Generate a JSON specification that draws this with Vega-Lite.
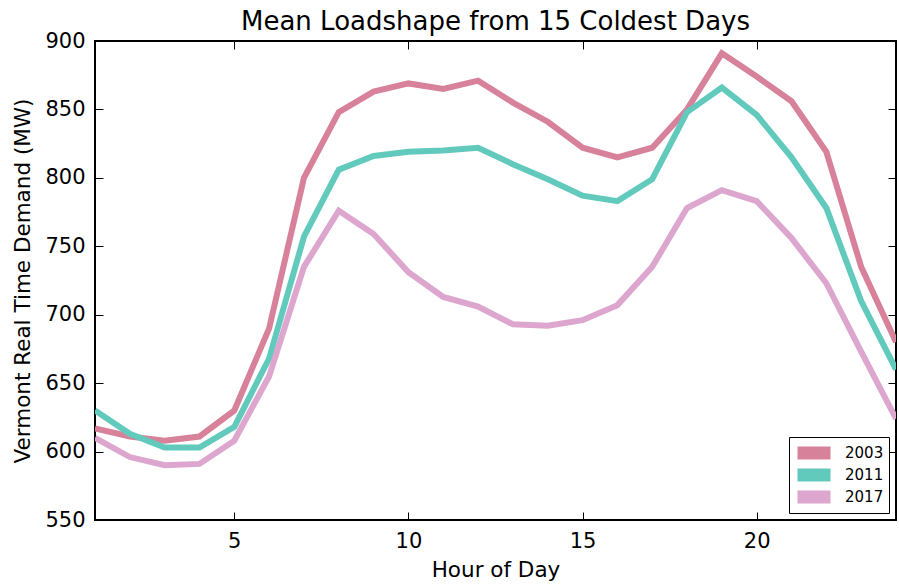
{
  "$schema": "https://vega.github.io/schema/vega-lite/v6.json",
  "autosize": "none",
  "width": 801,
  "height": 479,
  "padding": {"left": 95, "top": 41, "right": 3, "bottom": 64},
  "background": "white",
  "config": {
    "font": "DejaVu Sans",
    "view": {"stroke": "black", "strokeWidth": 2},
    "axis": {
      "grid": false,
      "domain": false,
      "tickColor": "black",
      "tickSize": -8,
      "tickWidth": 1,
      "labelColor": "black",
      "labelFontSize": 21,
      "labelPadding": 18,
      "titleColor": "black",
      "titleFontSize": 21.5,
      "titleFontWeight": "normal"
    }
  },
  "title": {"text": "Mean Loadshape from 15 Coldest Days", "fontSize": 26, "fontWeight": "normal", "color": "black", "offset": -5},
  "data": {
    "values": [
      {"hour": 1, "year": "2003", "mw": 617}, {"hour": 2, "year": "2003", "mw": 611}, {"hour": 3, "year": "2003", "mw": 608},
      {"hour": 4, "year": "2003", "mw": 611}, {"hour": 5, "year": "2003", "mw": 630}, {"hour": 6, "year": "2003", "mw": 690},
      {"hour": 7, "year": "2003", "mw": 800}, {"hour": 8, "year": "2003", "mw": 848}, {"hour": 9, "year": "2003", "mw": 863},
      {"hour": 10, "year": "2003", "mw": 869}, {"hour": 11, "year": "2003", "mw": 865}, {"hour": 12, "year": "2003", "mw": 871},
      {"hour": 13, "year": "2003", "mw": 855}, {"hour": 14, "year": "2003", "mw": 841}, {"hour": 15, "year": "2003", "mw": 822},
      {"hour": 16, "year": "2003", "mw": 815}, {"hour": 17, "year": "2003", "mw": 822}, {"hour": 18, "year": "2003", "mw": 850},
      {"hour": 19, "year": "2003", "mw": 891}, {"hour": 20, "year": "2003", "mw": 874}, {"hour": 21, "year": "2003", "mw": 856},
      {"hour": 22, "year": "2003", "mw": 819}, {"hour": 23, "year": "2003", "mw": 735}, {"hour": 24, "year": "2003", "mw": 680},
      {"hour": 1, "year": "2011", "mw": 630}, {"hour": 2, "year": "2011", "mw": 613}, {"hour": 3, "year": "2011", "mw": 603},
      {"hour": 4, "year": "2011", "mw": 603}, {"hour": 5, "year": "2011", "mw": 618}, {"hour": 6, "year": "2011", "mw": 668},
      {"hour": 7, "year": "2011", "mw": 757}, {"hour": 8, "year": "2011", "mw": 806}, {"hour": 9, "year": "2011", "mw": 816},
      {"hour": 10, "year": "2011", "mw": 819}, {"hour": 11, "year": "2011", "mw": 820}, {"hour": 12, "year": "2011", "mw": 822},
      {"hour": 13, "year": "2011", "mw": 810}, {"hour": 14, "year": "2011", "mw": 799}, {"hour": 15, "year": "2011", "mw": 787},
      {"hour": 16, "year": "2011", "mw": 783}, {"hour": 17, "year": "2011", "mw": 799}, {"hour": 18, "year": "2011", "mw": 848},
      {"hour": 19, "year": "2011", "mw": 866}, {"hour": 20, "year": "2011", "mw": 846}, {"hour": 21, "year": "2011", "mw": 815},
      {"hour": 22, "year": "2011", "mw": 778}, {"hour": 23, "year": "2011", "mw": 710}, {"hour": 24, "year": "2011", "mw": 660},
      {"hour": 1, "year": "2017", "mw": 610}, {"hour": 2, "year": "2017", "mw": 596}, {"hour": 3, "year": "2017", "mw": 590},
      {"hour": 4, "year": "2017", "mw": 591}, {"hour": 5, "year": "2017", "mw": 608}, {"hour": 6, "year": "2017", "mw": 655},
      {"hour": 7, "year": "2017", "mw": 735}, {"hour": 8, "year": "2017", "mw": 776}, {"hour": 9, "year": "2017", "mw": 759},
      {"hour": 10, "year": "2017", "mw": 731}, {"hour": 11, "year": "2017", "mw": 713}, {"hour": 12, "year": "2017", "mw": 706},
      {"hour": 13, "year": "2017", "mw": 693}, {"hour": 14, "year": "2017", "mw": 692}, {"hour": 15, "year": "2017", "mw": 696},
      {"hour": 16, "year": "2017", "mw": 707}, {"hour": 17, "year": "2017", "mw": 735}, {"hour": 18, "year": "2017", "mw": 778},
      {"hour": 19, "year": "2017", "mw": 791}, {"hour": 20, "year": "2017", "mw": 783}, {"hour": 21, "year": "2017", "mw": 756},
      {"hour": 22, "year": "2017", "mw": 723}, {"hour": 23, "year": "2017", "mw": 673}, {"hour": 24, "year": "2017", "mw": 624}
    ]
  },
  "layer": [
    {
      "mark": {"type": "line", "strokeWidth": 6, "clip": true},
      "encoding": {
        "x": {
          "field": "hour", "type": "quantitative",
          "scale": {"domain": [1, 24], "nice": false, "zero": false},
          "axis": {"orient": "bottom", "values": [5, 10, 15, 20], "title": "Hour of Day", "titlePadding": 8}
        },
        "y": {
          "field": "mw", "type": "quantitative",
          "scale": {"domain": [550, 900], "nice": false, "zero": false},
          "axis": {"orient": "left", "values": [550, 600, 650, 700, 750, 800, 850, 900], "title": "Vermont Real Time Demand (MW)", "titlePadding": 10}
        },
        "color": {
          "field": "year", "type": "nominal",
          "scale": {"domain": ["2003", "2011", "2017"], "range": ["#d7819a", "#62cabd", "#dca6ce"]},
          "legend": {
            "title": null,
            "orient": "bottom-right",
            "offset": 7,
            "strokeColor": "black",
            "fillColor": "white",
            "padding": 5,
            "symbolType": "M-3,0H3",
            "symbolSize": 121,
            "symbolStrokeWidth": 13,
            "symbolStrokeCap": "butt",
            "symbolOpacity": 1,
            "symbolOffset": 8,
            "labelFontSize": 15,
            "labelColor": "black",
            "labelOffset": 19,
            "clipHeight": 22,
            "rowPadding": 0
          }
        },
        "detail": {"field": "year"}
      }
    },
    {
      "mark": {"type": "line", "opacity": 0, "clip": true},
      "encoding": {
        "x": {
          "field": "hour", "type": "quantitative",
          "axis": {"orient": "top", "values": [5, 10, 15, 20], "labels": false, "title": null}
        },
        "y": {
          "field": "mw", "type": "quantitative",
          "axis": {"orient": "right", "values": [550, 600, 650, 700, 750, 800, 850, 900], "labels": false, "title": null}
        },
        "detail": {"field": "year"}
      }
    }
  ],
  "resolve": {"axis": {"x": "independent", "y": "independent"}}
}
